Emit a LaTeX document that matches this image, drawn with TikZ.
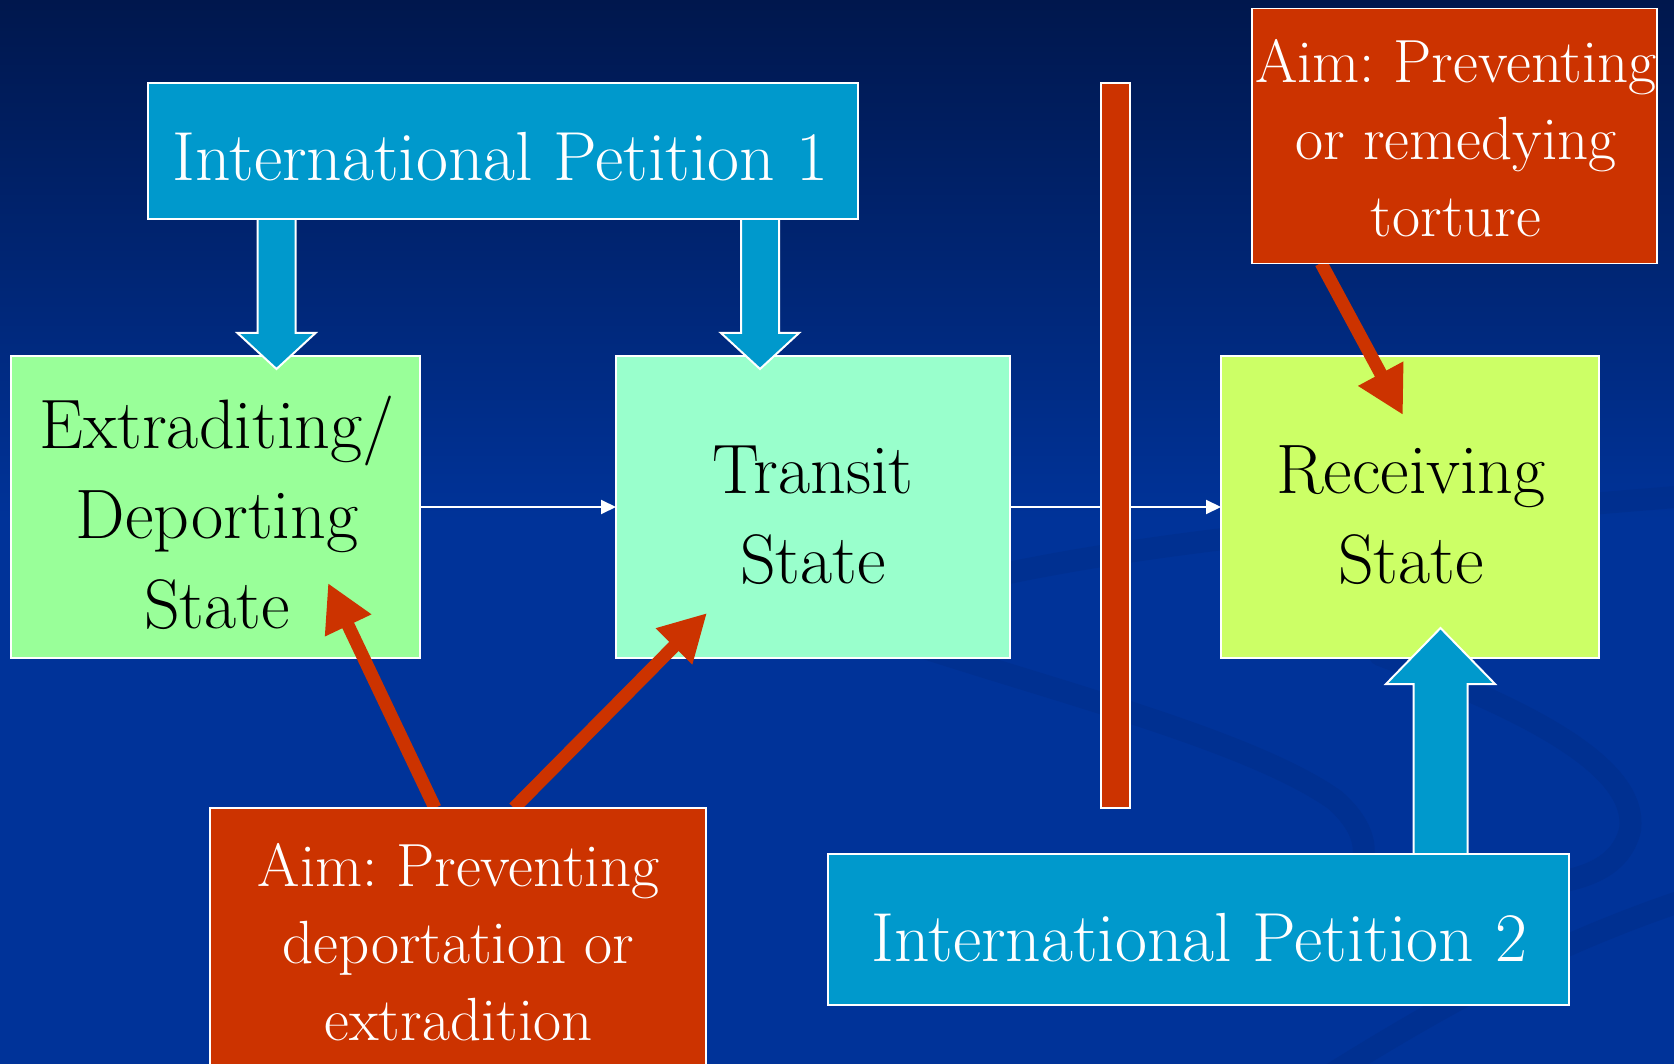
\documentclass[tikz,border=0pt]{standalone}
\usetikzlibrary{arrows.meta,calc}
\definecolor{bgtop}{HTML}{00174D}
\definecolor{bgmain}{HTML}{003399}
\definecolor{bgband}{HTML}{002C85}
\definecolor{petblue}{HTML}{0099CC}
\definecolor{aimred}{HTML}{CC3300}
\definecolor{extgreen}{HTML}{99FF99}
\definecolor{trgreen}{HTML}{99FFCC}
\definecolor{recgreen}{HTML}{CCFF66}
\begin{document}
\begin{tikzpicture}[x=1pt,y=-1pt,
  box/.style={draw=white, line width=2pt, inner sep=0pt, outer sep=0pt},
  wtext/.style={text=white, inner sep=0pt, align=center},
  btext/.style={text=black, inner sep=0pt, align=center},
  ipf/.style={font=\fontsize{69.5}{90}\selectfont\frenchspacing},
  statef/.style={font=\fontsize{70}{90}\selectfont\frenchspacing},
  aimf/.style={font=\fontsize{61}{77}\selectfont\frenchspacing},
  flow/.style={draw=white, line width=2pt, -{Triangle[length=15pt,width=14pt]}},
  redarrow/.style={draw=aimred, line width=13pt, -{Triangle[length=47pt,width=48pt]}},
  blockarrow/.style={fill=petblue, draw=white, line width=2pt, line join=miter},
  band/.style={draw=bgband, line width=22pt, line cap=round, opacity=0.4}
]
\useasboundingbox (0,0) rectangle (1674,1064);
\clip (0,0) rectangle (1674,1064);
% background
\fill[bgmain] (0,0) rectangle (1674,1064);
\shade[top color=bgtop, bottom color=bgmain] (0,0) rectangle (1674,520);
% swirl bands
\draw[band] (900,600) .. controls (1100,540) and (1400,520) .. (1700,495);
\draw[band] (900,640) .. controls (1050,690) and (1250,740) .. (1335,800) .. controls (1380,840) and (1370,880) .. (1320,900);
\draw[band] (1380,655) .. controls (1500,700) and (1640,760) .. (1630,830) .. controls (1620,870) and (1580,880) .. (1540,885);
\draw[band] (1330,1075) .. controls (1450,1000) and (1560,940) .. (1700,895);
% state boxes
\node[box, fill=extgreen, minimum width=409pt, minimum height=302pt] (ext) at (215.5,507) {};
\node[box, fill=trgreen, minimum width=394pt, minimum height=302pt] (tra) at (813,507) {};
\node[box, fill=recgreen, minimum width=378pt, minimum height=302pt] (rec) at (1410,507) {};
% flow connectors
\draw[flow] (ext.east) -- (tra.west);
\draw[flow] (tra.east) -- (rec.west);
% barrier
\node[box, line width=1.5pt, fill=aimred, minimum width=29pt, minimum height=725pt] (bar) at (1115.5,445.5) {};
% block arrows
\fill[petblue] (257.5,219) -- (257.5,333) -- (237.5,333) -- (276.5,369) -- (315.5,333) -- (295.5,333) -- (295.5,219) -- cycle;
\draw[blockarrow] (257.5,219) -- (257.5,333) -- (237.5,333) -- (276.5,369) -- (315.5,333) -- (295.5,333) -- (295.5,219);
\fill[petblue] (741,219) -- (741,333) -- (721,333) -- (760,369) -- (799,333) -- (779,333) -- (779,219) -- cycle;
\draw[blockarrow] (741,219) -- (741,333) -- (721,333) -- (760,369) -- (799,333) -- (779,333) -- (779,219);
\fill[petblue] (1413.5,854) -- (1413.5,684) -- (1386,684) -- (1440.5,628) -- (1495,684) -- (1467.5,684) -- (1467.5,854) -- cycle;
\draw[blockarrow] (1413.5,854) -- (1413.5,684) -- (1386,684) -- (1440.5,628) -- (1495,684) -- (1467.5,684) -- (1467.5,854);
% red aim arrows
\coordinate (sA) at (435,808);
\coordinate (tA) at (328,583);
\coordinate (sB) at (514,808);
\coordinate (tB) at (707,613);
\coordinate (sC) at (1321,263);
\coordinate (tC) at (1403,415);
\draw[redarrow] (sA) -- (tA);
\draw[redarrow] (sB) -- (tB);
\draw[redarrow] (sC) -- (tC);
% petition boxes
\node[box, fill=petblue, minimum width=710pt, minimum height=136pt] (ip1) at (503,151) {};
\node[box, fill=petblue, minimum width=741pt, minimum height=151pt] (ip2) at (1198.5,929.5) {};
% aim boxes
\node[box, line width=1.5pt, fill=aimred, minimum width=405pt, minimum height=255pt] (aimtr) at (1454.5,136) {};
\node[box, line width=1.5pt, fill=aimred, minimum width=496pt, minimum height=270pt] (aimbl) at (458,943) {};
% texts (base anchor = baseline of last line)
\node[wtext,ipf,anchor=base] (ip1t) at (500.5,181) {International Petition 1};
\node[wtext,ipf,anchor=base] (ip2t) at (1199.5,961) {International Petition 2};
\node[btext,statef,anchor=base] (extt) at (217,628) {Extraditing/\\Deporting\\State};
\node[btext,statef,anchor=base] (trat) at (813,583) {Transit\\State};
\node[btext,statef,anchor=base] (rect) at (1411,583) {Receiving\\State};
\node[wtext,aimf,anchor=base] (aimtrt) at (1456,237) {Aim: Preventing\\or remedying\\torture};
\node[wtext,aimf,anchor=base] (aimblt) at (458.5,1040) {Aim: Preventing\\deportation or\\extradition};
\end{tikzpicture}
\end{document}
